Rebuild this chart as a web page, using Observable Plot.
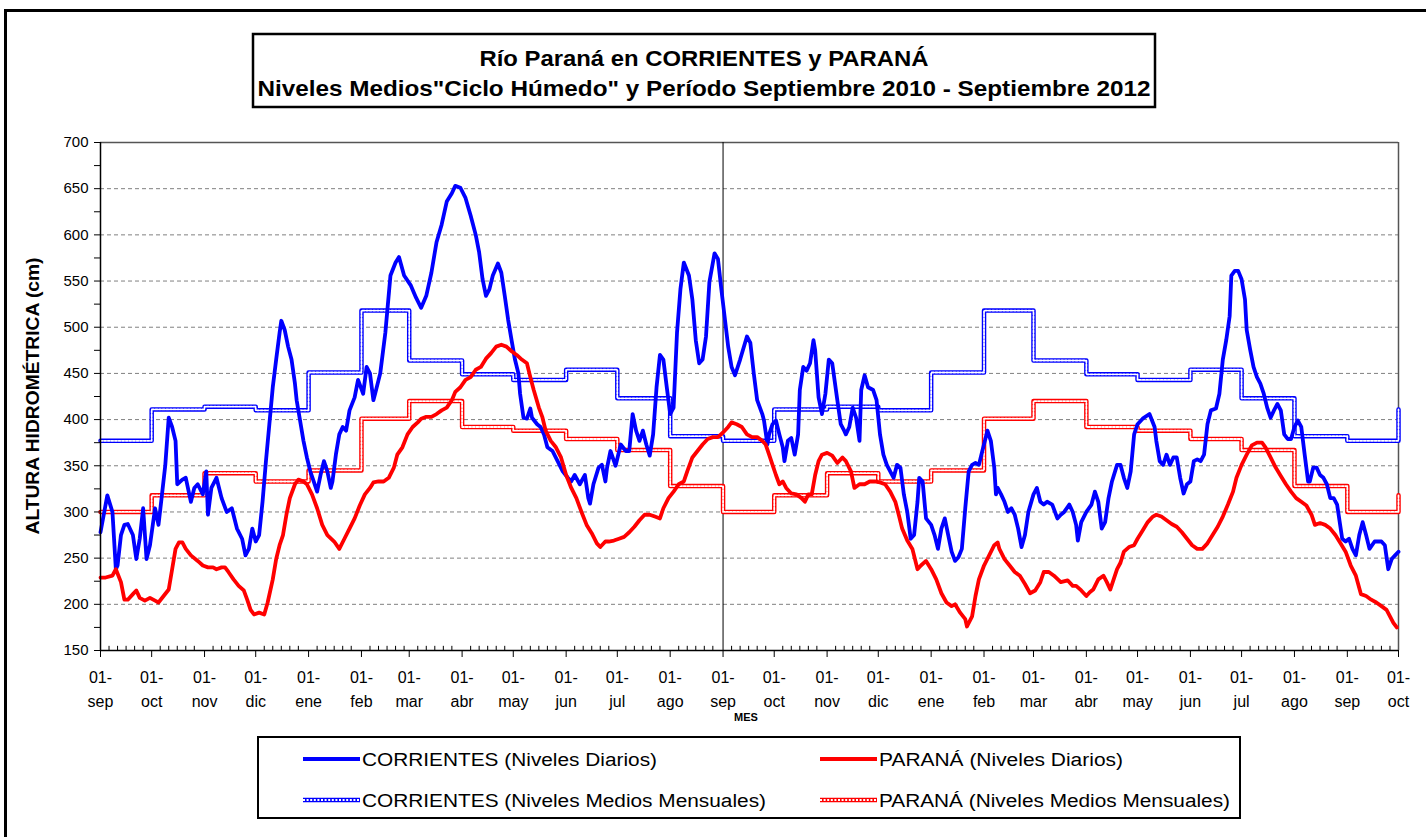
<!DOCTYPE html>
<html><head><meta charset="utf-8">
<script src="https://cdn.jsdelivr.net/npm/d3@7"></script>
<script src="https://cdn.jsdelivr.net/npm/@observablehq/plot@0.6"></script>
<style>
body{margin:0;background:#fff;}
#page{position:relative;width:1426px;height:837px;overflow:hidden;background:#fff;font-family:"Liberation Sans",Arial,sans-serif;}
#frame{position:absolute;left:4px;top:9px;width:1500px;height:900px;border-left:3px solid #000;border-top:3px solid #000;z-index:3;pointer-events:none;}
#chart{position:absolute;left:0;top:130px;z-index:1;}
#overlay{position:absolute;left:0;top:0;pointer-events:none;z-index:2;}
</style>
</head><body>
<div id="page">
  <div id="chart"></div>
  <svg id="overlay" width="1426" height="837"></svg>
  <div id="frame"></div>
</div>
<script>
// ---------------- DATA ----------------
const START = "2010-09-01";
const END = "2012-10-01";
const MESES = ["ene","feb","mar","abr","may","jun","jul","ago","sep","oct","nov","dic"];

// Monthly means ("Ciclo Húmedo"), sep..ago
const mesesCiclo = ["sep","oct","nov","dic","ene","feb","mar","abr","may","jun","jul","ago"];
const corrMedia = [377,411,414,410,451,518,464,449,443,454,423,382];
const paraMedia = [300,318,342,333,345,401,420,392,388,379,367,328];

// CORRIENTES daily levels: days since 2010-09-01 and level (cm)
const corrDia = [0,4,7,9,10,12,14,16,19,21,23,25,27,29,32,34,36,38,40,42,44,45,48,50,53,55,57,60,62,63,65,68,71,74,77,80,83,85,87,89,91,93,95,97,99,101,103,105,106,108,110,112,114,115,117,119,121,123,125,127,129,131,133,135,136,138,140,142,144,146,149,151,154,156,158,160,161,164,167,170,173,175,178,182,185,188,191,194,197,200,203,206,208,211,214,217,220,222,224,226,228,230,233,235,237,239,241,243,245,246,248,250,252,253,256,258,260,262,265,268,271,274,276,278,281,284,286,287,289,292,294,296,297,299,302,305,308,310,312,314,316,318,320,322,324,326,328,330,332,334,336,338,340,342,345,347,349,351,353,355,357,360,362,364,368,370,372,375,379,381,383,385,388,389,391,392,394,396,398,400,401,403,405,407,409,410,412,414,416,418,419,421,423,425,427,429,432,434,436,437,439,441,443,445,446,448,450,453,455,457,459,461,463,465,467,469,471,473,475,477,479,480,482,484,487,489,491,493,495,497,499,501,503,505,507,509,511,513,515,517,520,522,524,525,526,528,530,532,534,536,538,540,542,544,547,549,551,553,555,558,561,563,565,568,570,572,573,575,578,581,583,585,587,589,591,593,596,598,600,602,604,606,608,611,615,618,619,621,623,625,627,629,631,633,635,637,639,641,643,645,647,649,651,654,656,658,660,662,663,665,667,669,671,672,674,676,678,680,682,684,686,688,690,692,694,696,698,700,702,704,706,708,709,711,713,715,717,719,721,723,725,728,730,732,734,736,738,740,742,744,747,751,753,755,757,759,761];
const corrNivel = [278,318,300,238,242,275,286,287,275,249,271,304,249,264,304,286,318,351,402,392,377,330,335,337,311,326,330,319,344,297,326,337,315,300,304,282,271,253,260,282,268,275,311,355,395,435,465,494,507,497,479,465,439,421,399,377,359,344,333,322,340,355,344,326,333,362,384,392,388,410,424,443,428,457,450,421,428,450,494,556,570,576,556,545,532,521,534,559,592,611,636,645,653,651,640,621,600,581,552,534,541,556,569,559,534,508,486,465,450,428,402,401,412,402,395,392,384,370,366,355,344,337,333,340,330,340,315,309,330,348,351,333,348,366,350,373,366,366,406,388,377,388,373,361,384,435,470,465,435,406,413,494,541,570,556,530,486,461,465,490,549,580,574,541,479,457,448,465,490,483,450,421,406,399,373,384,395,399,384,370,355,377,380,362,384,432,457,453,461,486,475,424,406,428,465,461,421,395,388,384,392,413,402,377,432,448,435,432,421,384,362,351,344,337,351,348,319,300,271,275,311,337,333,293,286,275,260,282,293,275,257,247,251,260,304,344,351,353,351,366,388,377,348,319,326,319,311,300,304,297,282,262,275,300,319,326,311,308,311,308,293,297,300,308,300,286,269,289,300,308,322,311,282,289,315,333,351,351,337,326,344,384,395,401,406,392,377,355,351,362,351,359,359,337,320,330,333,355,357,355,362,395,410,412,428,465,486,512,556,561,561,552,530,497,476,457,446,439,428,413,402,410,417,410,384,379,379,392,399,392,362,333,333,348,348,340,337,330,315,315,308,271,268,271,260,253,275,289,275,260,268,268,264,238,249,253,257];

// PARANÁ daily levels
const paraDia = [0,3,7,9,12,14,16,19,21,23,26,29,32,34,37,40,42,44,46,48,50,53,57,60,63,66,68,71,73,75,78,81,84,86,88,90,93,96,98,101,103,105,107,109,111,114,116,119,121,124,127,130,133,137,140,143,146,149,152,155,158,160,163,166,169,172,174,177,180,183,186,188,191,194,197,200,203,206,208,211,214,217,220,223,226,229,232,235,238,241,244,247,250,252,254,257,259,261,264,267,270,273,276,279,282,285,288,291,293,296,298,301,304,307,310,313,316,319,322,325,328,330,333,336,339,342,344,347,350,353,356,359,362,365,368,370,373,376,379,382,385,388,390,392,394,396,398,400,402,405,408,411,413,415,417,419,421,423,426,429,432,435,437,440,442,445,448,451,454,457,460,463,466,468,470,473,476,479,481,484,487,490,493,496,499,501,504,507,508,511,513,515,518,521,524,526,527,530,533,536,539,542,545,548,551,553,556,559,563,567,570,572,575,578,580,582,585,588,590,592,594,596,598,600,603,606,608,611,614,617,619,622,625,628,631,634,637,640,643,646,649,652,655,658,661,664,666,669,672,675,678,681,683,686,689,692,695,698,701,704,707,710,712,715,718,721,724,727,730,733,736,739,742,745,748,751,754,756,758,760];
const paraNivel = [229,229,231,238,224,205,205,211,215,207,204,207,204,202,209,216,238,260,267,267,260,253,247,242,240,240,238,240,240,235,227,220,215,205,194,189,191,189,202,227,249,264,275,297,315,330,335,333,330,319,304,286,275,268,260,271,282,293,307,319,326,332,333,333,337,348,362,370,384,392,397,401,403,403,406,410,413,421,430,435,443,446,454,457,466,472,479,481,479,474,470,465,461,446,432,413,403,388,377,370,359,340,326,315,300,286,277,266,262,268,268,269,271,273,278,284,291,297,297,295,293,304,315,322,330,333,344,359,366,373,379,381,381,386,392,397,395,392,384,381,381,377,373,362,351,340,330,333,326,320,319,315,311,319,319,340,355,362,364,361,353,359,355,344,326,330,330,333,333,332,330,322,311,297,282,269,260,238,242,247,238,227,212,202,198,200,191,184,176,187,209,227,242,253,264,267,260,249,242,235,231,222,212,215,224,235,235,231,224,226,220,220,215,209,213,216,227,231,224,216,227,238,245,257,262,264,271,280,289,295,297,295,291,287,284,278,271,264,260,260,266,275,284,295,308,322,337,351,362,372,375,375,370,359,348,339,330,322,315,311,307,297,286,288,286,282,275,266,257,242,231,211,209,205,202,198,194,187,180,175];

const yTicks = [150,200,250,300,350,400,450,500,550,600,650,700];

// ---------------- BUILD ----------------
const t0 = new Date(START + "T00:00:00Z");
const tEnd = new Date(END + "T00:00:00Z");
const sep2011 = new Date("2011-09-01T00:00:00Z");
const toRows = (days, vals) => days.map((d, i) => ({date: d3.utcDay.offset(t0, d), value: vals[i]}));
const corrRows = toRows(corrDia, corrNivel);
const paraRows = toRows(paraDia, paraNivel);

const monthDates = d3.utcMonth.range(t0, d3.utcDay.offset(tEnd, 1));
const stepRows = (media) => monthDates.map((d, i) => ({date: d, value: media[mesesCiclo.indexOf(MESES[d.getUTCMonth()])]}));
const corrMed = stepRows(corrMedia);
const paraMed = stepRows(paraMedia);
const minorX = d3.utcDay.range(t0, tEnd).filter(d => d.getUTCDate() !== 1 && (d.getUTCDate() - 1) % 5 === 0 && d.getUTCDate() < 30);
const minorY = d3.range(150, 701, 25);

const BLUE = "#0000ff", RED = "#ff0000";
const DOTS = "2,1.6";
const chart = Plot.plot({
  width: 1426, height: 595,
  marginLeft: 100, marginRight: 28, marginTop: 12, marginBottom: 75,
  x: {type: "utc", domain: [t0, tEnd]},
  y: {domain: [150, 700]},
  style: {fontFamily: "'Liberation Sans', Arial, sans-serif", fontSize: "16px", color: "#000", background: "transparent", overflow: "visible"},
  marks: [
    Plot.gridY(yTicks.filter(v => v > 150 && v < 700), {stroke: "#808080", strokeOpacity: 1, strokeDasharray: "4,3"}),
    Plot.ruleY([700], {stroke: "#555", strokeWidth: 1.5}),
    Plot.ruleX([tEnd], {stroke: "#555", strokeWidth: 1.5}),
    Plot.ruleX([sep2011], {stroke: "#000", strokeWidth: 1}),
    Plot.line(corrMed, {x: "date", y: "value", curve: "step-after", stroke: BLUE, strokeWidth: 4.5}),
    Plot.line(corrMed, {x: "date", y: "value", curve: "step-after", stroke: "#fff", strokeWidth: 1.8, strokeDasharray: DOTS}),
    Plot.line(paraMed, {x: "date", y: "value", curve: "step-after", stroke: RED, strokeWidth: 4.5}),
    Plot.line(paraMed, {x: "date", y: "value", curve: "step-after", stroke: "#fff", strokeWidth: 1.8, strokeDasharray: DOTS}),
    Plot.line(corrRows, {x: "date", y: "value", stroke: BLUE, strokeWidth: 3.8, strokeLinejoin: "round"}),
    Plot.line(paraRows, {x: "date", y: "value", stroke: RED, strokeWidth: 3.8, strokeLinejoin: "round"}),
    Plot.ruleX(minorX, {x: d => d, y1: 150, y2: 154.5, stroke: "#000"}),
    Plot.axisX({ticks: monthDates, tickFormat: () => "01-", tickSize: 7, tickPadding: 14, label: null, fontSize: 16}),
    Plot.axisX({ticks: monthDates, tickFormat: d => MESES[d.getUTCMonth()], tickSize: 0, tickPadding: 45, label: null, fontSize: 16}),
    Plot.axisY({ticks: minorY, tickFormat: d => d % 50 === 0 ? d : "", tickSize: 6, tickPadding: 6, label: null, fontSize: 15}),
    Plot.ruleY([150], {stroke: "#000", strokeWidth: 1.5}),
    Plot.ruleX([t0], {stroke: "#000", strokeWidth: 1.5})
  ]
});
document.getElementById("chart").appendChild(chart);

// ---------------- TITLE / LEGEND / LABELS ----------------
const ov = d3.select("#overlay");
const FF = "'Liberation Sans', Arial, sans-serif";
ov.append("rect").attr("x", 253).attr("y", 34).attr("width", 902).attr("height", 73)
  .attr("fill", "#fff").attr("stroke", "#000").attr("stroke-width", 2.5);
ov.append("text").attr("x", 704).attr("y", 66).attr("text-anchor", "middle")
  .attr("font-family", FF).attr("font-weight", "bold").attr("font-size", 22)
  .attr("textLength", 449).attr("lengthAdjust", "spacingAndGlyphs")
  .text("Río Paraná en CORRIENTES y PARANÁ");
ov.append("text").attr("x", 704).attr("y", 96).attr("text-anchor", "middle")
  .attr("font-family", FF).attr("font-weight", "bold").attr("font-size", 22)
  .attr("textLength", 893).attr("lengthAdjust", "spacingAndGlyphs")
  .text("Niveles Medios\"Ciclo Húmedo\" y Período Septiembre 2010 - Septiembre 2012");

ov.append("text").attr("transform", "translate(39,396) rotate(-90)").attr("text-anchor", "middle")
  .attr("font-family", FF).attr("font-weight", "bold").attr("font-size", 18)
  .attr("textLength", 277).attr("lengthAdjust", "spacingAndGlyphs")
  .text("ALTURA HIDROMÉTRICA (cm)");

ov.append("text").attr("x", 746).attr("y", 721).attr("text-anchor", "middle")
  .attr("font-family", FF).attr("font-weight", "bold").attr("font-size", 11).text("MES");

// legend
ov.append("rect").attr("x", 258).attr("y", 737).attr("width", 982).attr("height", 81)
  .attr("fill", "#fff").attr("stroke", "#000").attr("stroke-width", 2);
const legend = [
  {label: "CORRIENTES (Niveles Diarios)", color: BLUE, dotted: false, x: 303, y: 759, len: 295},
  {label: "PARANÁ (Niveles Diarios)", color: RED, dotted: false, x: 820, y: 759, len: 244},
  {label: "CORRIENTES (Niveles Medios Mensuales)", color: BLUE, dotted: true, x: 303, y: 800, len: 404},
  {label: "PARANÁ (Niveles Medios Mensuales)", color: RED, dotted: true, x: 820, y: 800, len: 351}
];
legend.forEach(l => {
  ov.append("line").attr("x1", l.x).attr("x2", l.x + 57).attr("y1", l.y).attr("y2", l.y)
    .attr("stroke", l.color).attr("stroke-width", l.dotted ? 4.5 : 3.8);
  if (l.dotted) ov.append("line").attr("x1", l.x).attr("x2", l.x + 57).attr("y1", l.y).attr("y2", l.y)
    .attr("stroke", "#fff").attr("stroke-width", 1.8).attr("stroke-dasharray", DOTS);
  ov.append("text").attr("x", l.x + 59).attr("y", l.y + 7).attr("font-family", FF).attr("font-size", 18)
    .attr("textLength", l.len).attr("lengthAdjust", "spacingAndGlyphs").text(l.label);
});
</script>
</body></html>
